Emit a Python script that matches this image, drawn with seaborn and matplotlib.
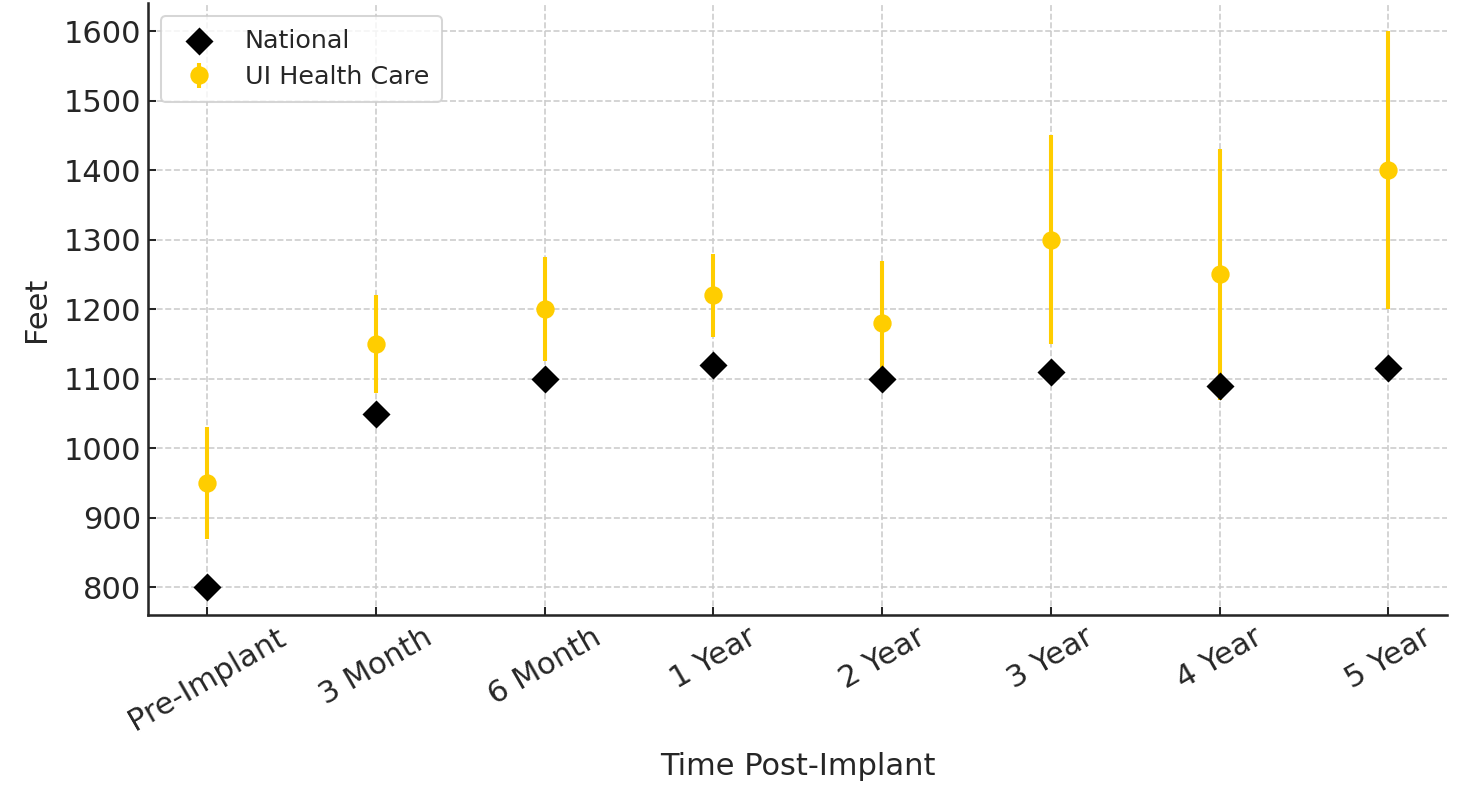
import matplotlib
matplotlib.use("Agg")
import matplotlib.pyplot as plt
import seaborn as sns
import pandas as pd

categories = ["Pre-Implant", "3 Month", "6 Month", "1 Year", "2 Year", "3 Year", "4 Year", "5 Year"]
national = [800, 1050, 1100, 1120, 1100, 1110, 1090, 1115]
ui_mean = [950, 1150, 1200, 1220, 1180, 1300, 1250, 1400]
ui_err = [80, 70, 75, 60, 90, 150, 180, 200]

GOLD = "#FFCD00"

sns.set_style("whitegrid", {
    "grid.linestyle": "--",
    "grid.color": "#cccccc",
    "axes.edgecolor": "#262626",
    "xtick.direction": "in",
    "ytick.direction": "in",
    "xtick.bottom": True,
    "ytick.left": True,
})
plt.rcParams["font.family"] = ["DejaVu Sans"]

fig = plt.figure(figsize=(10, 800 / 146.5), dpi=146.5)
ax = fig.add_axes([0.101, 0.231, 0.887, 0.765])

df_nat = pd.DataFrame({"x": range(len(categories)), "y": national})
sns.scatterplot(data=df_nat, x="x", y="y", marker="D", s=95, color="black",
                edgecolor="black", linewidth=0, ax=ax, label="National", zorder=3)
ax.errorbar(range(len(categories)), ui_mean, yerr=ui_err, fmt="o", color=GOLD,
            ecolor=GOLD, elinewidth=2, ms=8, capsize=0, label="UI Health Care", zorder=2)

ax.set_xticks(range(len(categories)))
ax.set_xticklabels(categories, rotation=30, fontsize=15)
ax.tick_params(axis="y", labelsize=15)
ax.tick_params(axis="both", length=4, width=1, color="#262626", labelcolor="#262626")
ax.set_yticks(range(800, 1601, 100))
ax.margins(x=0.05, y=0.05)
ax.set_xlabel("Time Post-Implant", fontsize=15, color="#262626", labelpad=8)
ax.set_ylabel("Feet", fontsize=15, color="#262626", labelpad=6)
for s in ["top", "right"]:
    ax.spines[s].set_visible(False)
for s in ["left", "bottom"]:
    ax.spines[s].set_linewidth(1.25)
ax.grid(True, linestyle="--", color="#cccccc", linewidth=0.8)

leg = ax.legend(loc="upper left", fontsize=12.5, frameon=True, borderpad=0.5)
leg.get_frame().set_edgecolor("#cccccc")
leg.get_frame().set_facecolor("white")

fig.savefig("out.png", dpi=146.5)
